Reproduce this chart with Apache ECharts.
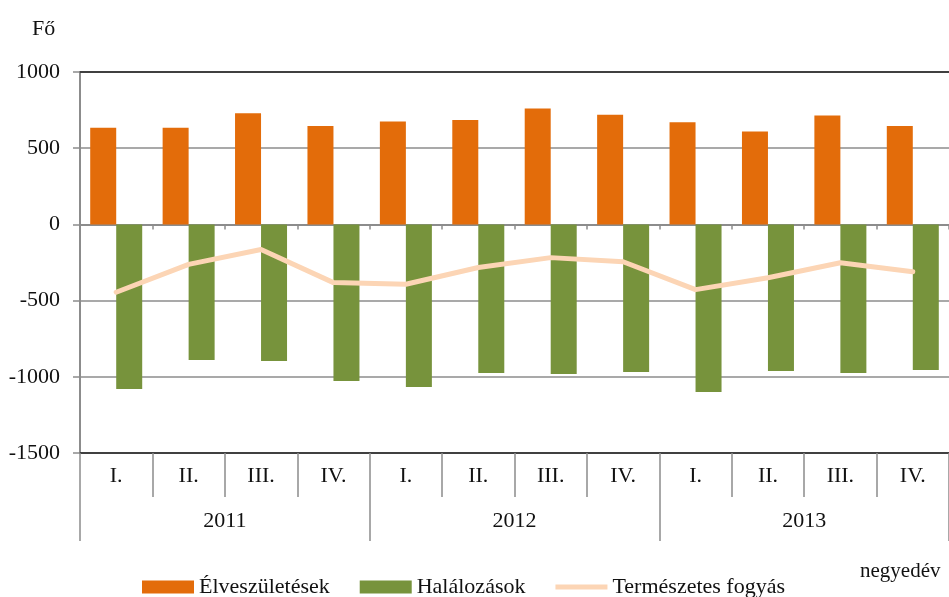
<!DOCTYPE html>
<html>
<head>
<meta charset="utf-8">
<script src="https://cdn.jsdelivr.net/npm/echarts@6/dist/echarts.min.js"></script>
<style>
  html, body { margin: 0; padding: 0; background: #fff; }
  #main { width: 949px; height: 597px; }
</style>
</head>
<body>
<div id="main"></div>
<script>
// adatok
var quarters = ['I.', 'II.', 'III.', 'IV.', 'I.', 'II.', 'III.', 'IV.', 'I.', 'II.', 'III.', 'IV.'];
var years = ['2011', '2012', '2013'];
var births = [635, 635, 730, 645, 675, 685, 760, 720, 670, 610, 715, 645];
var deaths = [-1080, -890, -897, -1027, -1067, -975, -982, -969, -1100, -962, -975, -955];
var natural = [-445, -262, -165, -382, -393, -283, -218, -245, -428, -350, -252, -310];

var font = 'Liberation Serif';
var txt = '#111';
var grey = '#8c8c8c';
var dark = '#404040';
var fs = 22;

var myChart = echarts.init(document.getElementById('main'));

var option = {
    animation: false,
    textStyle: { fontFamily: font },
    title: [
        { text: 'Fő', left: 27, top: 13, textStyle: { fontFamily: font, fontSize: fs, fontWeight: 'normal', color: txt } },
        { text: 'negyedév', left: 855, top: 556, textStyle: { fontFamily: font, fontSize: fs - 1, fontWeight: 'normal', color: txt } }
    ],
    legend: {
        left: 142,
        top: 576,
        padding: 0,
        itemWidth: 52,
        itemHeight: 13,
        itemGap: 30,
        textStyle: { fontFamily: font, fontSize: fs, color: txt, lineHeight: 22 },
        data: [
            { name: 'Élveszületések', icon: 'rect' },
            { name: 'Halálozások', icon: 'rect' },
            { name: 'Természetes fogyás', icon: 'path://M0,0 L52,0 L52,5 L0,5 Z', itemStyle: { color: '#FCD5B5' } }
        ]
    },
    grid: { left: 80, right: 0, top: 72, bottom: 144, containLabel: false },
    xAxis: [
        {
            // negyedévek
            type: 'category',
            data: quarters,
            position: 'bottom',
            axisLine: { onZero: false, lineStyle: { color: dark, width: 2 } },
            axisTick: { show: true, interval: 0, length: 44, lineStyle: { color: grey, width: 1.5 } },
            axisLabel: { interval: 0, margin: 12, fontFamily: font, fontSize: fs, color: txt }
        },
        {
            // évek
            type: 'category',
            data: years,
            position: 'bottom',
            offset: 44,
            axisLine: { show: false, onZero: false },
            axisTick: { show: true, interval: 0, length: 44, lineStyle: { color: grey, width: 1.5 } },
            axisLabel: { interval: 0, margin: 13, fontFamily: font, fontSize: fs, color: txt }
        },
        {
            // felső keret
            type: 'category',
            data: quarters,
            position: 'top',
            axisLine: { onZero: false, lineStyle: { color: dark, width: 2 } },
            axisTick: { show: false },
            axisLabel: { show: false }
        },
        {
            // nulla vonal
            type: 'category',
            data: quarters,
            position: 'bottom',
            axisLine: { onZero: true, onZeroAxisIndex: 0, lineStyle: { color: grey, width: 2 } },
            axisTick: { show: true, interval: 0, length: 5, lineStyle: { color: grey, width: 1.5 } },
            axisLabel: { show: false }
        }
    ],
    yAxis: {
        type: 'value',
        min: -1500,
        max: 1000,
        interval: 500,
        axisLine: { show: true, lineStyle: { color: grey, width: 2 } },
        axisTick: { show: true, length: 7, lineStyle: { color: grey, width: 1.5 } },
        splitLine: { show: true, lineStyle: { color: grey, width: 1.5 } },
        axisLabel: { margin: 20, fontFamily: font, fontSize: fs, color: txt, formatter: function (v) { return String(v); } }
    },
    series: [
        {
            name: 'Élveszületések',
            type: 'bar',
            xAxisIndex: 0,
            barWidth: 26,
            barGap: '0%',
            itemStyle: { color: '#E36C0A' },
            data: births
        },
        {
            name: 'Halálozások',
            type: 'bar',
            xAxisIndex: 0,
            barWidth: 26,
            barGap: '0%',
            itemStyle: { color: '#77933C' },
            data: deaths
        },
        {
            name: 'Természetes fogyás',
            type: 'line',
            xAxisIndex: 0,
            symbol: 'none',
            z: 5,
            lineStyle: { color: '#FCD5B5', width: 5, cap: 'round', join: 'round' },
            itemStyle: { color: '#FCD5B5' },
            data: natural
        }
    ]
};

myChart.setOption(option);
</script>
</body>
</html>
